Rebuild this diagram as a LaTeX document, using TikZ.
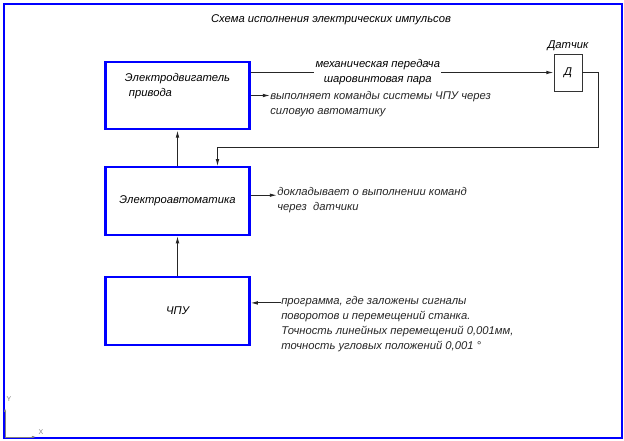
\documentclass[tikz,border=0pt]{standalone}
\usepackage{fontspec}
\setmainfont{Liberation Sans}
\usetikzlibrary{arrows.meta,positioning}

\begin{document}
\begin{tikzpicture}[
x=0.25mm, y=-0.25mm,
node distance=9mm and 6mm,
font=\fontsize{8}{10.8}\selectfont\itshape,
box/.style={draw=blue, line width=1.5pt, minimum width=36mm, minimum height=16.9mm, align=left},
sens/.style={draw=black!80, line width=0.7pt, minimum width=7mm, minimum height=9.25mm},
note/.style={align=left, inner sep=0pt, anchor=north west, text=black!85},
arrow/.style={-{Latex[length=1.8mm,width=0.9mm]}, line width=0.7pt, draw=black!85},
axis/.style={font=\fontsize{5}{6}\selectfont, text=gray, inner sep=0pt}
]
\useasboundingbox (0,0) rectangle (624,441);
\draw[blue, line width=1.5pt] (4,4) rectangle (622,438);
\node (title) at (331,20) {Схема исполнения электрических импульсов};

\node[box] (motor) at (177.5,95.5) {Электродвигатель\\\hspace*{1mm}привода\\[1.5mm]};
\node[box, below=of motor] (auto) {Электроавтоматика};
\node[box, below=10mm of auto] (cnc) {ЧПУ};
\node[sens, label={[yshift=-0.5mm]above:Датчик}] (sensor) at (568,72.5) {Д};
\coordinate (turn) at (598,147);

\draw[arrow] (motor.east |- sensor.west) -- node[pos=0.42, fill=white, inner sep=1pt, align=center] {механическая передача\\шаровинтовая пара} (sensor.west);
\draw[arrow] (sensor.east) -| (turn) -| ([xshift=10mm]auto.north);
\draw[arrow] (cnc) -- (auto);
\draw[arrow] (auto) -- (motor);

\node[note] (motornote) at (270,91) {выполняет команды системы ЧПУ через\\силовую автоматику};
\node[note] (autonote) at (277,187) {докладывает о выполнении команд\\через\ \ датчики};
\node[note] (cncnote) at (281,296) {программа, где заложены сигналы\\поворотов и перемещений станка.\\Точность линейных перемещений 0,001мм,\\точность угловых положений 0,001 °};
\draw[arrow] (motor.east) -- (motor.east -| motornote.west);
\draw[arrow] ([yshift=1.5mm]auto.east) -- ([yshift=1.5mm]auto.east -| autonote.west);
\draw[arrow] ([yshift=2mm]cnc.east -| cncnote.west) -- ([yshift=2mm]cnc.east);

\node[axis] (ylab) at (9,399) {Y};
\node[axis] (xlab) at (41,432) {X};
\draw[gray, line width=0.4pt, -{Latex[length=1mm,width=0.6mm]}] (5,437) -- (5,408);
\draw[gray, line width=0.4pt, -{Latex[length=1mm,width=0.6mm]}] (5,437) -- (36,437);
\end{tikzpicture}
\end{document}
